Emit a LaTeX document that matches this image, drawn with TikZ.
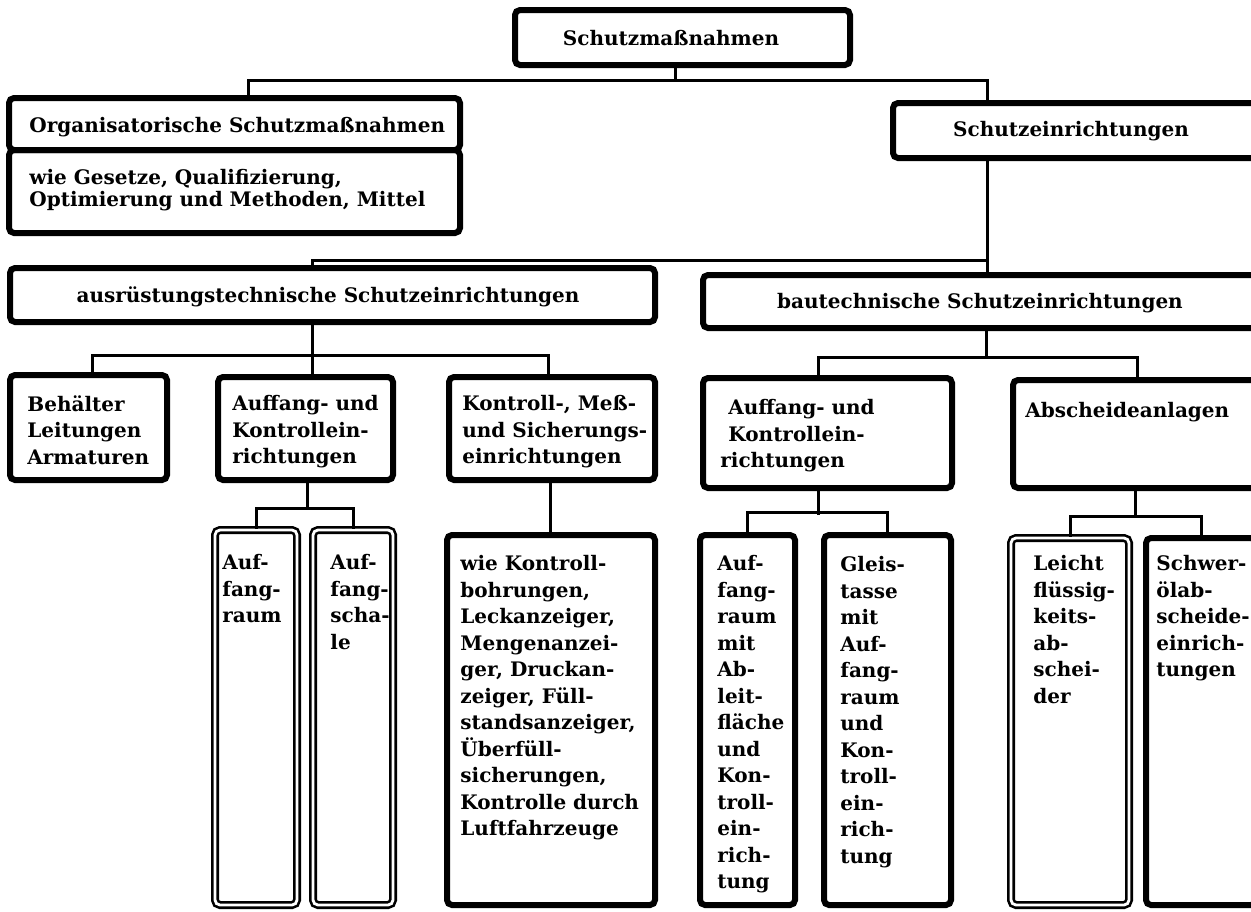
\documentclass[tikz,border=0pt]{standalone}
\usepackage{fontspec}
\setmainfont{DejaVu Serif}
\usetikzlibrary{fit,calc}
\begin{document}
\begin{tikzpicture}[x=0.5pt,y=-0.5pt,
  box/.style={draw, line width=3pt, rounded corners=2.5pt, inner sep=0pt},
  thinbox/.style={draw, line width=1.3pt, double=white, double distance=1.4pt, rounded corners=2.5pt, inner sep=0pt},
  conn/.style={line width=1.5pt},
  txt/.style={inner sep=0pt, align=left, font=\bfseries\fontsize{10}{13.25}\selectfont},
  ctxt/.style={inner sep=0pt, font=\bfseries\fontsize{10}{13.25}\selectfont},
]
\useasboundingbox (0,0) rectangle (1251,911);
\clip (0,0) rectangle (1251,911);
\fill[white] (0,0) rectangle (1251,911);

% boxes
\node[box, fit={(515,10) (850,65)}] (top) {};
\node[box, fit={(9,98) (460,150)}] (org1) {};
\node[box, fit={(9,150) (460,233)}] (org2) {};
\node[box, fit={(893,103) (1258,158)}] (sch) {};
\node[box, fit={(10,268) (655,322)}] (ausr) {};
\node[box, fit={(703,275) (1258,328)}] (bau) {};
\node[box, fit={(10,375) (167,480)}] (beh) {};
\node[box, fit={(218,377) (393,480)}] (aauf) {};
\node[box, fit={(449,377) (655,480)}] (kon) {};
\node[box, fit={(703,378) (952,488)}] (bauf) {};
\node[box, fit={(1013,380) (1258,488)}] (absch) {};
\node[thinbox, fit={(215,530) (297,905)}] (araum) {};
\node[thinbox, fit={(313,530) (393,905)}] (aschale) {};
\node[box, fit={(447,535) (655,905)}] (kliste) {};
\node[box, fit={(700,535) (795,905)}] (braum) {};
\node[box, fit={(824,535) (951,905)}] (gleis) {};
\node[thinbox, fit={(1011,538) (1129,905)}] (leicht) {};
\node[box, fit={(1146,538) (1256,905)}] (schwer) {};

% texts
\node[ctxt] (ttop) at (671,38) {Schutzmaßnahmen};
\node[txt, anchor=north west] (torg1) at (29,117) {Organisatorische Schutzmaßnahmen};
\node[txt, anchor=north west, font=\bfseries\fontsize{10}{11}\selectfont] (torg2) at (29,169) {wie Gesetze, Qualifizierung,\\Optimierung und Methoden, Mittel};
\node[ctxt] (tsch) at (1071,131) {Schutzeinrichtungen};
\node[ctxt] (tausr) at (328,297) {ausrüstungstechnische Schutzeinrichtungen};
\node[ctxt] (tbau) at (980,303) {bautechnische Schutzeinrichtungen};
\node[txt, anchor=north west] (tbeh) at (27,395) {Behälter\\Leitungen\\Armaturen};
\node[txt, anchor=north west] (taauf) at (232,395) {Auffang- und\\Kontrollein-\\richtungen};
\node[txt, anchor=north west] (tkon) at (462,395) {Kontroll-, Meß-\\und Sicherungs-\\einrichtungen};
\node[txt, anchor=north west] (tbauf) at (720,399) {\hspace*{4pt}Auffang- und\\\hspace*{4pt}Kontrollein-\\richtungen};
\node[txt, anchor=north west] (tabsch) at (1025,402) {Abscheideanlagen};
\node[txt, anchor=north west] (taraum) at (222,554) {Auf-\\fang-\\raum};
\node[txt, anchor=north west] (taschale) at (330,554) {Auf-\\fang-\\scha-\\le};
\node[txt, anchor=north west] (tkliste) at (460,555) {wie Kontroll-\\bohrungen,\\Leckanzeiger,\\Mengenanzei-\\ger, Druckan-\\zeiger, Füll-\\standsanzeiger,\\Überfüll-\\sicherungen,\\Kontrolle durch\\Luftfahrzeuge};
\node[txt, anchor=north west] (tbraum) at (717,555) {Auf-\\fang-\\raum\\mit\\Ab-\\leit-\\fläche\\und\\Kon-\\troll-\\ein-\\rich-\\tung};
\node[txt, anchor=north west] (tgleis) at (840,556) {Gleis-\\tasse\\mit\\Auf-\\fang-\\raum\\und\\Kon-\\troll-\\ein-\\rich-\\tung};
\node[txt, anchor=north west] (tleicht) at (1033,555) {Leicht\\flüssig-\\keits-\\ab-\\schei-\\der};
\node[txt, anchor=north west] (tschwer) at (1156,555) {Schwer-\\ölab-\\scheide-\\einrich-\\tungen};

% connectors
\draw[conn] (top.south -| 675,0) -- (675,80) -| (org1.north -| 248,0);
\draw[conn] (675,80) -| (sch.north -| 987,0);
\draw[conn] (sch.south -| 987,0) -- (bau.north -| 987,0);
\draw[conn] (987,260) -| (ausr.north -| 312,0);
\draw[conn] (ausr.south -| 312,0) -- (aauf.north -| 312,0);
\draw[conn] (beh.north -| 92,0) -- (92,355) -- (548,355) -- (kon.north -| 548,0);
\draw[conn] (aauf.south -| 307,0) -- (307,510);
\draw[conn] (araum.north) -- ++(0,-20) -| (aschale.north);
\draw[conn] (kon.south -| 550,0) -- (kliste.north -| 550,0);
\draw[conn] (bau.south -| 986,0) -- (986,357);
\draw[conn] (bauf.north -| 818,0) -- (818,357) -- (1137,357) -- (absch.north -| 1137,0);
\draw[conn] (bauf.south -| 818,0) -- (818,515);
\draw[conn] (braum.north) -- ++(0,-20) -| (gleis.north);
\draw[conn] (absch.south -| 1135,0) -- (1135,518);
\draw[conn] (leicht.north) -- ++(0,-20) -| (schwer.north);
\end{tikzpicture}
\end{document}
